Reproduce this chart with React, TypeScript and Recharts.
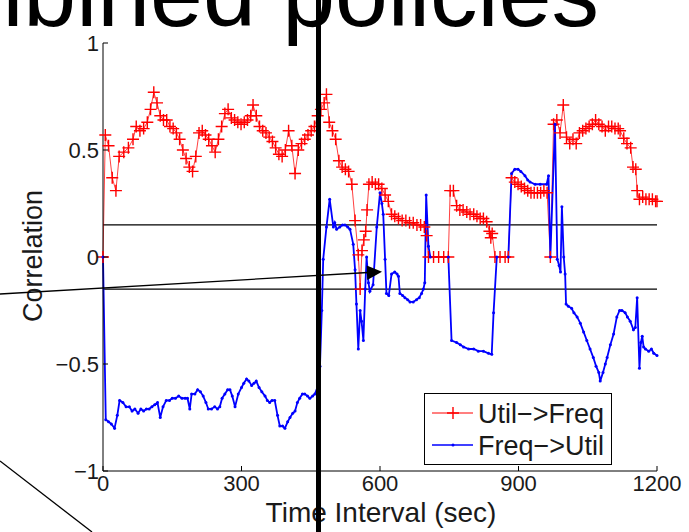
import React from 'react';
import { Label, Legend, Line, LineChart, ReferenceLine, XAxis, YAxis } from 'recharts';

// axes
const xTicks = [0, 300, 600, 900, 1200];
const yTicks = [-1, -0.5, 0, 0.5, 1];
const thresholds = [0.15, -0.15];

// Util->Freq (red, + markers)
const utilTimes = [
  0, 5, 12, 20, 28, 35, 45, 55, 65, 72, 80, 88, 96, 103, 110, 117, 124, 131, 138, 145,
  152, 159, 166, 173, 180, 187, 194, 201, 208, 215, 222, 229, 236, 243, 250, 257, 264, 271, 278, 285,
  292, 299, 306, 313, 320, 325, 332, 339, 346, 353, 360, 367, 374, 381, 388, 395, 402, 409, 416, 423,
  430, 437, 444, 451, 458, 465, 472, 479, 484, 490, 497, 504, 511, 518, 525, 532, 539, 546, 553, 557,
  561, 565, 569, 572, 576, 583, 590, 597, 604, 611, 618, 625, 632, 640, 648, 656, 664, 672, 680, 688,
  696, 701, 705, 716, 727, 738, 748, 752, 759, 766, 773, 780, 788, 795, 803, 810, 817, 824, 831, 837,
  840, 843, 849, 860, 871, 878, 885, 892, 899, 906, 913, 920, 927, 934, 941, 948, 955, 962, 969, 976,
  983, 990, 997, 1004, 1011, 1018, 1025, 1032, 1039, 1046, 1053, 1060, 1067, 1074, 1081, 1088, 1095, 1102, 1109, 1116,
  1120, 1128, 1135, 1143, 1148, 1154, 1157, 1162, 1169, 1176, 1183, 1190, 1197, 1200,
];
const utilValues = [
  0, 0.57, 0.52, 0.37, 0.31, 0.47, 0.49, 0.51, 0.55, 0.61, 0.59, 0.6, 0.63, 0.69, 0.77, 0.72, 0.66, 0.64, 0.64, 0.61,
  0.6, 0.58, 0.55, 0.5, 0.46, 0.42, 0.4, 0.47, 0.58, 0.59, 0.57, 0.55, 0.52, 0.49, 0.55, 0.61, 0.67, 0.69, 0.65, 0.64,
  0.63, 0.62, 0.63, 0.64, 0.66, 0.71, 0.66, 0.61, 0.59, 0.58, 0.56, 0.54, 0.51, 0.48, 0.47, 0.5, 0.59, 0.52, 0.39, 0.5,
  0.53, 0.55, 0.57, 0.59, 0.61, 0.66, 0.69, 0.72, 0.76, 0.63, 0.59, 0.55, 0.45, 0.42, 0.41, 0.4, 0.34, 0.17, 0.01, -0.15,
  0.03, 0.08, 0.12, 0.22, 0.34, 0.35, 0.34, 0.34, 0.32, 0.29, 0.26, 0.2, 0.19, 0.18, 0.17, 0.17, 0.16, 0.16, 0.15, 0.15,
  0.14, 0.1, 0, 0, 0, 0, 0, 0.31, 0.31, 0.24, 0.22, 0.22, 0.21, 0.2, 0.2, 0.19, 0.18, 0.18, 0.165, 0.12,
  0.09, 0.11, 0, 0, 0, 0, 0.37, 0.35, 0.34, 0.33, 0.32, 0.31, 0.3, 0.3, 0.3, 0.3, 0.31, 0.3, 0, 0.62,
  0.64, 0.58, 0.71, 0.56, 0.53, 0.55, 0.53, 0.58, 0.59, 0.6, 0.61, 0.62, 0.64, 0.62, 0.61, 0.59, 0.61, 0.61, 0.6, 0.6,
  0.59, 0.555, 0.53, 0.51, 0.42, 0.41, 0.31, 0.27, 0.28, 0.27, 0.27, 0.27, 0.26, 0.26,
];

// Freq->Util (blue, dot markers)
const freqTimes = [
  0, 6, 12, 18, 25, 31, 36, 43, 50, 57, 63, 69, 76, 82, 88, 94, 100, 106, 112, 118,
  124, 130, 137, 144, 150, 157, 164, 171, 178, 183, 188, 192, 199, 205, 211, 217, 223, 228, 235, 242,
  248, 253, 258, 264, 270, 275, 280, 286, 293, 300, 305, 311, 316, 322, 327, 332, 338, 344, 351, 356,
  361, 366, 372, 378, 383, 389, 394, 400, 405, 411, 416, 421, 426, 432, 437, 443, 448, 454, 459, 466,
  470, 474, 477, 484, 491, 499, 502, 506, 513, 519, 524, 530, 535, 542, 546, 549, 553, 557, 560, 564,
  568, 571, 575, 578, 585, 593, 600, 604, 607, 611, 614, 619, 625, 632, 637, 640, 643, 649, 654, 660,
  665, 672, 679, 685, 690, 694, 697, 700, 705, 709, 748, 755, 766, 774, 781, 792, 803, 813, 824, 835,
  842, 846, 853, 878, 885, 892, 899, 905, 914, 920, 925, 936, 947, 961, 965, 969, 979, 984, 988, 991,
  994, 998, 1001, 1003, 1008, 1015, 1020, 1027, 1034, 1041, 1048, 1055, 1062, 1068, 1074, 1077, 1083, 1088, 1092, 1099,
  1106, 1113, 1119, 1124, 1131, 1136, 1142, 1149, 1153, 1157, 1162, 1165, 1168, 1171, 1175, 1182, 1188, 1193, 1200,
];
const freqValues = [
  0, -0.76, -0.77, -0.78, -0.8, -0.74, -0.67, -0.68, -0.7, -0.7, -0.72, -0.71, -0.73, -0.71, -0.72, -0.71, -0.71, -0.7, -0.69, -0.68,
  -0.75, -0.7, -0.67, -0.67, -0.66, -0.66, -0.65, -0.66, -0.66, -0.66, -0.71, -0.64, -0.64, -0.62, -0.63, -0.65, -0.68, -0.71, -0.71, -0.7,
  -0.71, -0.7, -0.66, -0.64, -0.62, -0.62, -0.65, -0.7, -0.64, -0.61, -0.59, -0.57, -0.58, -0.6, -0.59, -0.58, -0.61, -0.63, -0.65, -0.67,
  -0.68, -0.67, -0.67, -0.74, -0.79, -0.79, -0.8, -0.77, -0.75, -0.73, -0.72, -0.68, -0.66, -0.64, -0.64, -0.65, -0.66, -0.65, -0.64, -0.6,
  -0.51, -0.25, -0.01, 0.14, 0.27, 0.14, 0.16, 0.13, 0.14, 0.15, 0.15, 0.14, 0.13, 0.06, -0.06, -0.22, -0.43, -0.25, -0.3, -0.39,
  -0.15, 0, -0.12, -0.16, -0.13, 0.14, 0.3, 0.25, 0.2, -0.01, -0.17, -0.18, -0.08, -0.07, -0.08, -0.09, -0.17, -0.18, -0.19, -0.2,
  -0.21, -0.21, -0.2, -0.19, -0.17, -0.15, -0.12, 0.29, 0.05, 0, 0, -0.39, -0.4, -0.41, -0.42, -0.43, -0.43, -0.44, -0.44, -0.45,
  -0.455, -0.26, 0, 0, 0.39, 0.41, 0.41, 0.4, 0.38, 0.36, 0.35, 0.34, 0.34, 0.34, 0.38, 0, 0.62, -0.01, -0.04, -0.07,
  0.235, 0, -0.08, -0.22, -0.23, -0.24, -0.26, -0.28, -0.31, -0.35, -0.39, -0.43, -0.47, -0.51, -0.54, -0.58, -0.54, -0.5, -0.47, -0.41,
  -0.36, -0.28, -0.25, -0.25, -0.26, -0.28, -0.3, -0.34, -0.33, -0.19, -0.52, -0.4, -0.37, -0.42, -0.43, -0.44, -0.43, -0.45, -0.46,
];

const utilData = utilTimes.map((t, i) => ({ t, v: utilValues[i] }));
const freqData = freqTimes.map((t, i) => ({ t, v: freqValues[i] }));

const RED = '#ff0000';
const BLUE = '#0000ff';
const FONT = '"Liberation Sans", Arial, Helvetica, sans-serif';
const minus = (v: number) => String(v).replace('-', '\u2212');

function PlusDot(props: any) {
  const { cx, cy, index } = props;
  if (cx == null || cy == null) return null;
  return (
    <path
      key={`p-${index}`}
      d={`M${cx - 6},${cy}H${cx + 6}M${cx},${cy - 6}V${cy + 6}`}
      stroke={RED}
      strokeWidth={1.4}
      fill="none"
    />
  );
}

function SmallDot(props: any) {
  const { cx, cy, index } = props;
  if (cx == null || cy == null) return null;
  return <circle key={`d-${index}`} cx={cx} cy={cy} r={1.5} fill={BLUE} />;
}

// MATLAB style: ticks point into the box
function BottomTick({ x, y, payload }: any) {
  return (
    <g>
      <line x1={x} x2={x} y1={y} y2={y - 5} stroke="#000" />
      <text x={x} y={y + 20} textAnchor="middle" fontSize={22} fontFamily={FONT} fill="#1a1a1a">
        {payload.value}
      </text>
    </g>
  );
}
function TopTick({ x, y }: any) {
  return <line x1={x} x2={x} y1={y} y2={y + 5} stroke="#000" />;
}
function LeftTick({ x, y, payload }: any) {
  return (
    <g>
      <line x1={x} x2={x + 5} y1={y} y2={y} stroke="#000" />
      <text x={x - 4} y={y + 8} textAnchor="end" fontSize={22} fontFamily={FONT} fill="#1a1a1a">
        {minus(payload.value)}
      </text>
    </g>
  );
}
function RightTick({ x, y }: any) {
  return <line x1={x} x2={x - 5} y1={y} y2={y} stroke="#000" />;
}

function LegendBox() {
  return (
    <svg width={188} height={72} style={{ display: 'block' }}>
      <rect x={0.5} y={0.5} width={187} height={71} fill="#fff" stroke="#000" />
      <line x1={8} x2={49} y1={20} y2={20} stroke={RED} strokeWidth={1.2} />
      <path d="M29,14V26M23,20H35" stroke={RED} strokeWidth={1.4} />
      <text x={54} y={30} fontSize={27} fontFamily={FONT} fill="#1a1a1a">
        Util{'\u2212'}&gt;Freq
      </text>
      <line x1={8} x2={49} y1={52} y2={52} stroke={BLUE} strokeWidth={1.5} />
      <circle cx={29} cy={52} r={1.5} fill={BLUE} />
      <text x={54} y={62} fontSize={27} fontFamily={FONT} fill="#1a1a1a">
        Freq{'\u2212'}&gt;Util
      </text>
    </svg>
  );
}

export default function App() {
  return (
    <div style={{ position: 'absolute', left: 0, top: 0, width: 689, height: 532, background: '#fff', overflow: 'hidden' }}>
      <LineChart width={689} height={532} margin={{ top: 43, right: 32, bottom: 0, left: 0 }}>
        <XAxis
          dataKey="t"
          type="number"
          domain={[0, 1200]}
          ticks={xTicks}
          height={61}
          tickSize={0}
          tickMargin={0}
          tickLine={false}
          tick={<BottomTick />}
          axisLine={{ stroke: '#000' }}
          interval={0}
        >
          <Label
            content={() => (
              <text x={381} y={522} textAnchor="middle" fontSize={28} fontFamily={FONT} fill="#1a1a1a">
                Time Interval (sec)
              </text>
            )}
          />
        </XAxis>
        <XAxis
          xAxisId="top"
          orientation="top"
          dataKey="t"
          type="number"
          domain={[0, 1200]}
          ticks={xTicks}
          height={0}
          tickSize={0}
          tickMargin={0}
          tickLine={false}
          tick={<TopTick />}
          axisLine={{ stroke: '#000' }}
          interval={0}
        />
        <YAxis
          type="number"
          domain={[-1, 1]}
          ticks={yTicks}
          width={103}
          tickSize={0}
          tickMargin={0}
          tickLine={false}
          tick={<LeftTick />}
          axisLine={{ stroke: '#000' }}
          interval={0}
        >
          <Label
            content={() => (
              <text x={42} y={256} transform="rotate(-90 42 256)" textAnchor="middle" fontSize={27} fontFamily={FONT} fill="#1a1a1a">
                Correlation
              </text>
            )}
          />
        </YAxis>
        <YAxis
          yAxisId="right"
          orientation="right"
          type="number"
          domain={[-1, 1]}
          ticks={yTicks}
          width={0}
          tickSize={0}
          tickMargin={0}
          tickLine={false}
          tick={<RightTick />}
          axisLine={{ stroke: '#000' }}
          interval={0}
        />
        {thresholds.map((v) => (
          <ReferenceLine key={v} y={v} stroke="#000" strokeWidth={1.3} />
        ))}
        <Line
          data={utilData}
          dataKey="v"
          name="Util->Freq"
          stroke={RED}
          strokeOpacity={0.75}
          strokeWidth={1}
          dot={<PlusDot />}
          activeDot={false}
          isAnimationActive={false}
        />
        <Line
          data={freqData}
          dataKey="v"
          name="Freq->Util"
          stroke={BLUE}
          strokeWidth={1.8}
          dot={<SmallDot />}
          activeDot={false}
          isAnimationActive={false}
        />
        <Legend
          layout="vertical"
          align="center"
          verticalAlign="middle"
          content={() => <LegendBox />}
          wrapperStyle={{ left: 424, top: 393, width: 188, height: 72 }}
        />
      </LineChart>
      {/* slide annotations drawn over the figure */}
      <svg width={689} height={532} style={{ position: 'absolute', left: 0, top: 0, pointerEvents: 'none' }}>
        <text x={599} y={26} textAnchor="end" fontSize={95} fontFamily={FONT} fill="#000">
          Combined policies
        </text>
        <rect x={316} y={0} width={5} height={532} fill="#000" />
        <line x1={0} y1={294} x2={368} y2={272.5} stroke="#000" strokeWidth={1.3} />
        <polygon points="382,271.7 366.7,265.5 367.2,280" fill="#000" />
        <line x1={0} y1={461} x2={92} y2={532} stroke="#000" strokeWidth={1.3} />
      </svg>
    </div>
  );
}
